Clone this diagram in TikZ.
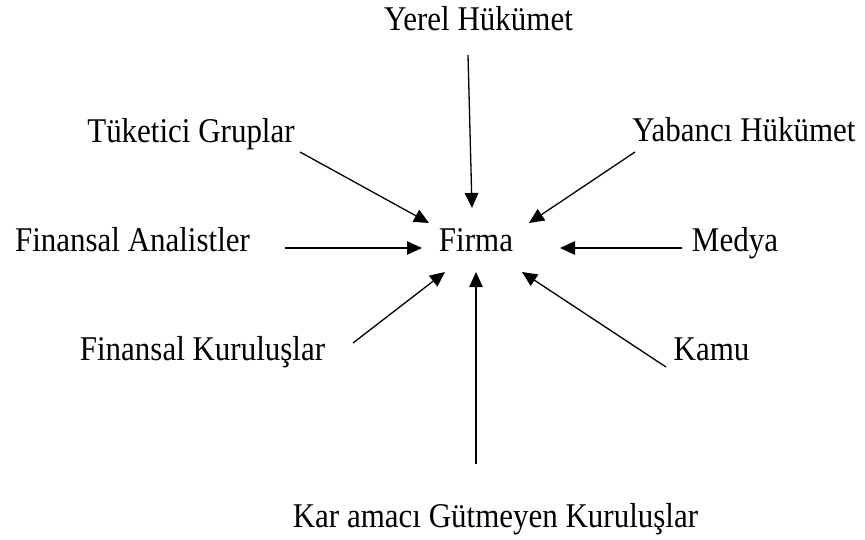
\documentclass[tikz,border=0pt]{standalone}
\usepackage{fontspec}
\setmainfont[FakeStretch=0.893]{Liberation Serif}
\usetikzlibrary{arrows.meta}
\begin{document}
\begin{tikzpicture}[x=1pt,y=-1pt,
  label/.style={anchor=base,inner sep=0pt,font=\fontsize{34.7}{40}\selectfont},
  link/.style={line width=1.3pt,-{Triangle[length=15pt,width=13.5pt]}}]
\useasboundingbox (0,0) rectangle (865,539);

% stakeholders around the firm
\node[label] (firma)   at (476,251.5) {Firma};
\node[label] (yerel)   at (478.5,30)  {Yerel Hükümet};
\node[label] (tuketici) at (191,142)  {Tüketici Gruplar};
\node[label] (yabanci) at (744,141)   {Yabancı Hükümet};
\node[label] (analist) at (132.5,251.5) {Finansal Analistler};
\node[label] (medya)   at (735,251.5) {Medya};
\node[label] (kurulus) at (202.5,360) {Finansal Kuruluşlar};
\node[label] (kamu)    at (711.5,360) {Kamu};
\node[label] (karamaci) at (495.5,527) {Kar amacı Gütmeyen Kuruluşlar};

% arrow ends
\coordinate (yerel-s)    at (468,55);
\coordinate (yerel-e)    at (472,208);
\coordinate (tuketici-s) at (300,152);
\coordinate (tuketici-e) at (429,223);
\coordinate (yabanci-s)  at (635,152);
\coordinate (yabanci-e)  at (529,223);
\coordinate (analist-s)  at (285,248);
\coordinate (analist-e)  at (422,248);
\coordinate (medya-s)    at (682,248);
\coordinate (medya-e)    at (560,248);
\coordinate (kurulus-s)  at (353,343);
\coordinate (kurulus-e)  at (445,272);
\coordinate (kamu-s)     at (666,367);
\coordinate (kamu-e)     at (522,272);
\coordinate (karamaci-s) at (476,464);
\coordinate (karamaci-e) at (476,272);

\foreach \n in {yerel,tuketici,yabanci,analist,medya,kurulus,kamu,karamaci}
  \draw[link] (\n-s) -- (\n-e);
\end{tikzpicture}
\end{document}
